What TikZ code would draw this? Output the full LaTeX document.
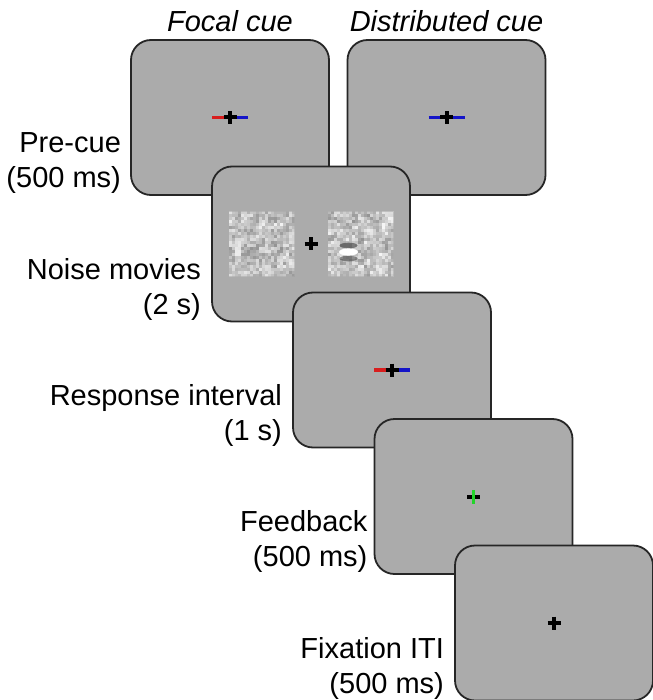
\documentclass[tikz,border=0pt]{standalone}
\usepackage{fontspec}
\setmainfont{Liberation Sans}

\definecolor{scrgray}{HTML}{ABABAB}
\definecolor{scredge}{HTML}{262626}
\definecolor{cuered}{HTML}{D81E1E}
\definecolor{cueblue}{HTML}{1414C8}
\definecolor{fbgreen}{HTML}{22D42A}

\tikzset{
  screen/.style={draw=scredge, fill=scrgray, line width=1.8pt, rounded corners=20pt,
    minimum width=198pt, minimum height=155pt, inner sep=0pt},
  lbl/.style={align=right, inner sep=0pt, anchor=south east, font=\fontsize{29}{35}\selectfont},
  ttl/.style={inner sep=0pt, anchor=base, font=\fontsize{29}{35}\selectfont\itshape},
  pics/fix/.style={code={\draw[line width=4pt] (-6.5,0) -- (6.5,0) (0,-6.5) -- (0,6.5);}},
  pics/cue/.style 2 args={code={
    \draw[line width=3.5pt, #1] (-18,0) -- (-6.5,0);
    \draw[line width=3.5pt, #2] (6.5,0) -- (18,0);
    \pic {fix};}},
}

% one noise patch round a point: coarse blobs, then fine grain on top
\newcommand{\noisepatch}[1]{%
  \begin{scope}[shift={(#1)}]
    \foreach \i in {0,...,10}{\foreach \j in {0,...,10}{
      \pgfmathsetmacro{\g}{58+38*rnd}
      \fill[white!\g!black] (-33+6*\i,-33+6*\j) rectangle ++(6,6);
    }}
    \foreach \i in {0,...,21}{\foreach \j in {0,...,21}{
      \pgfmathsetmacro{\g}{55+45*rnd}
      \fill[white!\g!black, opacity=.5] (-33+3*\i,-33+3*\j) rectangle ++(3,3);
    }}
    \draw[scrgray, line width=1.5pt, opacity=.6] (-33,-33) rectangle (33,33);
  \end{scope}}

\begin{document}
\begin{tikzpicture}[x=1pt, y=-1pt]
  \pgfmathsetseed{11}
  \useasboundingbox (0,0) rectangle (652,700);

  % pre-cue screens
  \node[screen] (focal) at (230,117.5) {};
  \node[screen] (distr) at (446.5,117.5) {};
  \node[ttl] (tfocal) at ([yshift=8pt]focal.north) {Focal cue};
  \node[ttl] (tdistr) at ([yshift=8pt]distr.north) {Distributed cue};
  \pic at (focal.center) {cue={cuered}{cueblue}};
  \pic at (distr.center) {cue={cueblue}{cueblue}};
  \node[lbl] (lprecue) at ([xshift=-9pt, yshift=2pt]focal.south west) {Pre-cue\\(500 ms)};

  % noise movies
  \node[screen] (noise) at (311,244) {};
  \coordinate (pleft) at ([xshift=-49.5pt]noise.center);
  \coordinate (pright) at ([xshift=49.5pt]noise.center);
  \noisepatch{pleft}
  \noisepatch{pright}
  \coordinate (gabor) at ([xshift=-12pt, yshift=-8pt]pright);
  \fill[black!70, opacity=.7] ([yshift=6.5pt]gabor) ellipse (9 and 2.8);
  \fill[black!70, opacity=.6] ([yshift=-6.5pt]gabor) ellipse (9 and 2.8);
  \fill[white] (gabor) ellipse (9.5 and 3.6);
  \pic at (noise.center) {fix};
  \node[lbl] (lnoise) at ([xshift=-10pt, yshift=2pt]noise.south west) {Noise movies\\(2 s)};

  % response interval
  \node[screen] (resp) at (392,370) {};
  \pic at (resp.center) {cue={cuered}{cueblue}};
  \node[lbl] (lresp) at ([xshift=-10pt, yshift=2pt]resp.south west) {Response interval\\(1 s)};

  % feedback
  \node[screen] (fback) at (473.5,496.5) {};
  \draw[line width=4pt] ([xshift=-6.5pt]fback.center) -- ([xshift=6.5pt]fback.center);
  \draw[line width=3.5pt, fbgreen] ([yshift=-7pt]fback.center) -- ([yshift=7pt]fback.center);
  \node[lbl] (lfback) at ([xshift=-6pt, yshift=2pt]fback.south west) {Feedback\\(500 ms)};

  % fixation
  \node[screen] (fixa) at (554,623) {};
  \pic at (fixa.center) {fix};
  \node[lbl] (lfixa) at ([xshift=-10pt, yshift=2pt]fixa.south west) {Fixation ITI\\(500 ms)};
\end{tikzpicture}
\end{document}
